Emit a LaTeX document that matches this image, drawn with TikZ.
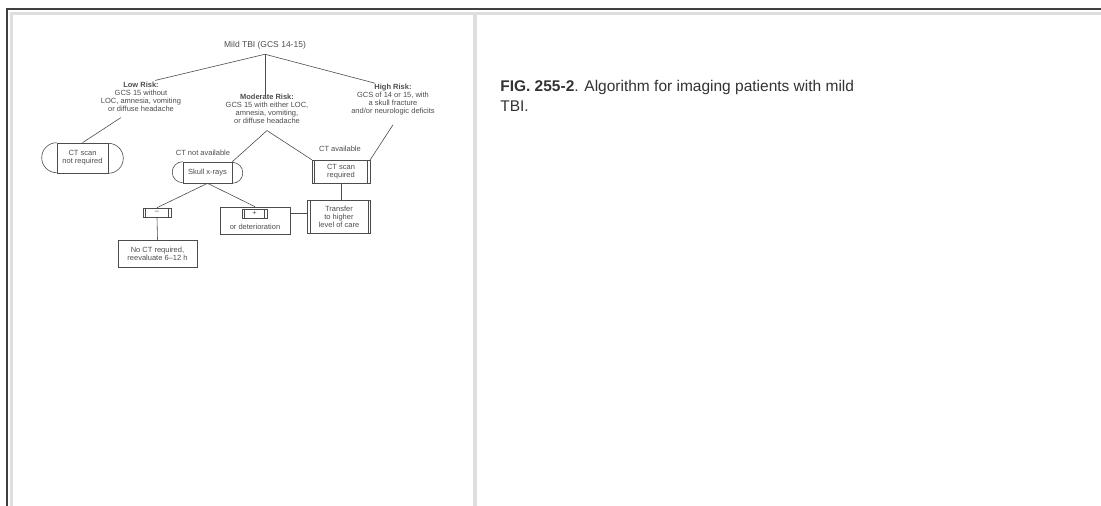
\documentclass[tikz,border=0pt]{standalone}
\usepackage{fontspec}
\setmainfont{Liberation Sans}
\usetikzlibrary{positioning}

\tikzset{
    procbox/.style={draw, rectangle, inner sep=0pt},
    plainbox/.style={draw, rectangle, inner sep=0pt},
    captext/.style={font=\fontsize{15.5}{20}\selectfont, text=black!80, align=left, inner sep=0pt}
}

\begin{document}
\begin{tikzpicture}[
    x=1pt,
    y=1pt,
    black!70,
    line width=0.6pt,
    every node/.style={inner sep=1pt, align=center, font=\fontsize{7.5}{8}\selectfont}
]

\useasboundingbox (0,0) rectangle (1101,-506);

% Page frame
\draw[black!75, line width=2pt] (7,-506) -- (7,-9) -- (1101,-9);
\draw[black!13, line width=3pt] (11.5,-506) -- (11.5,-13) -- (1101,-13);
\draw[black!13, line width=4pt] (475,-13) -- (475,-506);


% Top
\node[font=\fontsize{8.5}{9}\selectfont] (mild) at (265,-45) {Mild TBI (GCS 14-15)};


% Risk groups
\node (low) at (141,-96.5) {\textbf{Low Risk:}\\GCS 15 without\\LOC, amnesia, vomiting\\or diffuse headache};
\node (mod) at (267,-108.5) {\textbf{Moderate Risk:}\\GCS 15 with either LOC,\\amnesia, vomiting,\\or diffuse headache};
\node (high) at (393,-100) {\textbf{High Risk:}\\GCS of 14 or 15, with\\a skull fracture\\and/or neurologic deficits};


% Imaging
\node[procbox, minimum width=51pt, minimum height=30pt] (ctno) at (82.5,-158) {CT scan\\not required};
\node[procbox, minimum width=49pt, minimum height=21pt] (skull) at (207.5,-172.5) {Skull x-rays};
\node[procbox, minimum width=58pt, minimum height=23pt] (ctyes) at (341,-171.5) {CT scan\\required};

\node (lblno) at (203,-153) {CT not available};
\node (lblyes) at (340,-149) {CT available};


% Results
\node[procbox, minimum width=28pt, minimum height=9pt] (minus) at (157,-212.5) {--};
\node[plainbox, minimum width=79pt, minimum height=27pt] (noct) at (157.5,-253.5) {No CT required,\\reevaluate 6--12 h};
\node[plainbox, minimum width=70pt, minimum height=27pt] (orbox) at (255,-220.5) {};
\node[procbox, minimum width=25pt, minimum height=9pt] (plus) at (254.5,-213.5) {+};
\node (ordet) at (255,-227) {or deterioration};
\node[procbox, minimum width=63pt, minimum height=33pt] (transfer) at (339,-216.5) {Transfer\\to higher\\level of care};


% Rounded ends
\draw (ctno.north west) arc[start angle=90, end angle=270, radius=15pt];
\draw (ctno.south east) arc[start angle=-90, end angle=90, radius=15pt];
\draw (skull.north west) arc[start angle=90, end angle=270, radius=10.5pt];
\draw (skull.south east) arc[start angle=-90, end angle=90, radius=10.5pt];

% Side bars
\foreach \n in {ctyes,minus,plus,transfer} {
    \draw ([xshift=3pt]\n.north west) -- ([xshift=3pt]\n.south west);
    \draw ([xshift=-3pt]\n.north east) -- ([xshift=-3pt]\n.south east);
}


% Connections
\draw ([yshift=-4pt]mild.south) -- ([xshift=14pt]low.north);
\draw ([yshift=-4pt]mild.south) -- ([yshift=-4pt]mild.south |- mod.north);
\draw ([yshift=-4pt]mild.south) -- ([xshift=-18pt]high.north);

\draw ([xshift=-20pt,yshift=-5pt]low.south) -- (ctno.north);

\draw ([yshift=-6pt]mod.south) -- (skull.north east);
\draw ([yshift=-6pt]mod.south) -- (ctyes.north west);
\draw ([yshift=-8pt]high.south) -- (ctyes.north east);

\draw (ctyes.south) -- (ctyes.south |- transfer.north);

\draw (skull.south) -- (minus.north);
\draw (skull.south) -- (orbox.north);
\draw (minus.south) -- (noct.north);
\draw (plus -| orbox.east) -- (plus -| transfer.west);


% Caption
\node[captext, anchor=north west] (cap) at (500,-80) {\textbf{FIG. 255-2}. Algorithm for imaging patients with mild\\TBI.};

\end{tikzpicture}
\end{document}
